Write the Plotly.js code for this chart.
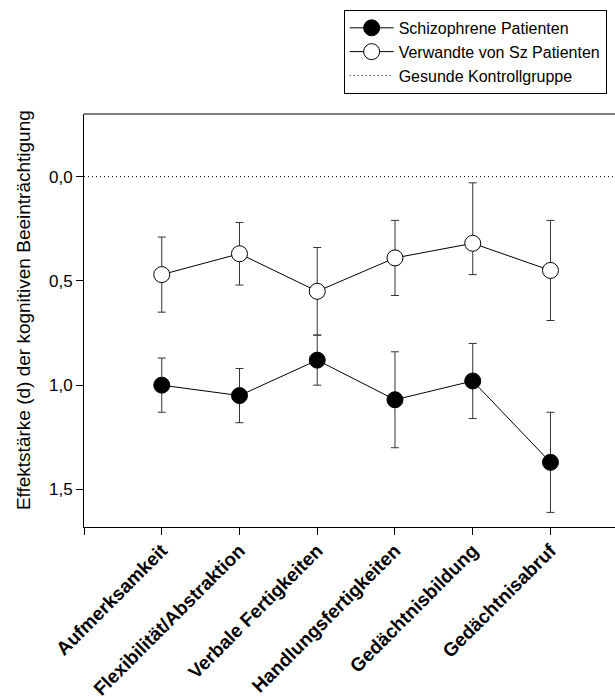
<!DOCTYPE html>
<html>
<head>
<meta charset="utf-8">
<script src="https://cdn.plot.ly/plotly-3.0.1.min.js"></script>
<style>
html,body{margin:0;padding:0;background:#fff;}
#chart{width:615px;height:697px;}
</style>
</head>
<body>
<div id="chart"></div>
<script>
// Data
var categories = ['Aufmerksamkeit', 'Flexibilität/Abstraktion', 'Verbale Fertigkeiten',
                  'Handlungsfertigkeiten', 'Gedächtnisbildung', 'Gedächtnisabruf'];
var szMean  = [1.00, 1.05, 0.88, 1.07, 0.98, 1.37];
var szErr   = [0.13, 0.13, 0.12, 0.23, 0.18, 0.24];
var relMean = [0.47, 0.37, 0.55, 0.39, 0.32, 0.45];
var relErrPlus  = [0.18, 0.15, 0.21, 0.18, 0.15, 0.24];
var relErrMinus = [0.18, 0.15, 0.21, 0.18, 0.29, 0.24];
var controlValue = 0;
var yTickVals = [0, 0.5, 1.0, 1.5];
var yTickText = ['0,0', '0,5', '1,0', '1,5'];
var seriesNames = ['Schizophrene Patienten', 'Verwandte von Sz Patienten', 'Gesunde Kontrollgruppe'];
var yTitle = 'Effektstärke (d) der kognitiven Beeinträchtigung';

var xPos = categories.map(function (c, i) { return i + 1; });
var FONT = 'Liberation Sans, Arial, Helvetica, sans-serif';

var errStyle = {color: '#333', thickness: 1, width: 4};

var traces = [
  {
    x: xPos, y: szMean, name: seriesNames[0], type: 'scatter', mode: 'lines+markers',
    line: {color: '#000', width: 1},
    marker: {symbol: 'circle', size: 16, color: '#000', line: {color: '#000', width: 1}},
    error_y: Object.assign({type: 'data', array: szErr, visible: true}, errStyle)
  },
  {
    x: xPos, y: relMean, name: seriesNames[1], type: 'scatter', mode: 'lines+markers',
    line: {color: '#000', width: 1},
    marker: {symbol: 'circle', size: 16, color: '#fff', line: {color: '#000', width: 1}},
    error_y: Object.assign({type: 'data', symmetric: false, array: relErrPlus,
                            arrayminus: relErrMinus, visible: true}, errStyle)
  },
  {
    x: [0, categories.length + 1], y: [controlValue, controlValue], name: seriesNames[2],
    type: 'scatter', mode: 'lines',
    line: {color: '#000', width: 1, dash: '1px,3px'}
  }
];

var layout = {
  width: 615, height: 697,
  margin: {l: 84, r: 0, t: 114, b: 170, pad: 0},
  paper_bgcolor: '#fff', plot_bgcolor: '#fff',
  font: {family: FONT, color: '#000', size: 16},
  showlegend: true,
  legend: {
    x: 0.489, y: 1.252, xanchor: 'left', yanchor: 'top',
    bordercolor: '#000', borderwidth: 1, bgcolor: '#fff',
    font: {family: FONT, size: 16, color: '#000'},
    itemwidth: 44, traceorder: 'normal'
  },
  xaxis: {
    range: [0, 6.83], showgrid: false, zeroline: false,
    showline: true, linecolor: '#000', linewidth: 1,
    ticks: 'outside', ticklen: 7, tickcolor: '#000', tickwidth: 1,
    tickmode: 'array', tickvals: [0].concat(xPos), ticktext: [''].concat(categories),
    tickangle: -45, ticklabelstandoff: -3,
    tickfont: {family: FONT, size: 19, color: '#000', weight: 'bold'}
  },
  yaxis: {
    range: [1.68, -0.30], showgrid: false, zeroline: false,
    showline: true, linecolor: '#000', linewidth: 1,
    ticks: 'outside', ticklen: 7, tickcolor: '#000', tickwidth: 1,
    tickmode: 'array', tickvals: yTickVals, ticktext: yTickText,
    tickfont: {family: FONT, size: 17, color: '#000'}
  },
  annotations: [
    {text: yTitle, xref: 'paper', yref: 'paper', x: -0.115, y: 0.525,
     xanchor: 'center', yanchor: 'middle', textangle: -90, showarrow: false,
     font: {family: FONT, size: 19, color: '#000'}}
  ],
  shapes: [
    {type: 'line', xref: 'paper', yref: 'paper', x0: 0, x1: 1, y0: 1, y1: 1,
     line: {color: '#000', width: 1}}
  ]
};

Plotly.newPlot('chart', traces, layout, {displayModeBar: false, staticPlot: true});
</script>
</body>
</html>
